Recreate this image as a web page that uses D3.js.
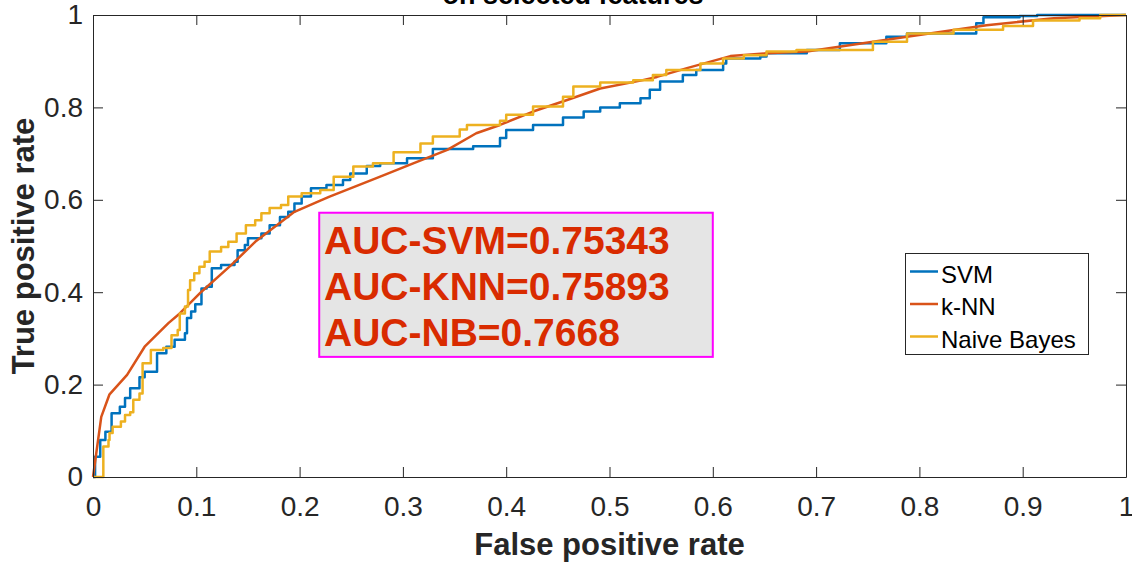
<!DOCTYPE html>
<html>
<head>
<meta charset="utf-8">
<script src="https://cdn.jsdelivr.net/npm/d3@7"></script>
<style>
  body { margin: 0; background: #fff; }
  text { font-family: "Liberation Sans", Arial, sans-serif; }
</style>
</head>
<body>
<svg id="chart" width="1132" height="564"></svg>
<script>
"use strict";

// ROC points (false positive rate, true positive rate)
const svmFpr = [0, .002, .007, .012, .018, .026, .031, .036, .045, .050, .062, .071, .079, .089, .091, .095, .099, .105, .110, .115, .124, .137, .140, .147, .150, .163, .171, .181, .189, .195, .202, .211, .226, .242, .249, .265, .278, .304, .329, .368, .394, .400, .426, .455, .475, .491, .510, .530, .539, .549, .571, .584, .610, .613, .646, .652, .691, .723, .768, .788, .855, .862, .897, .914, 1];
const svmTpr = [0, .044, .080, .098, .138, .152, .171, .192, .216, .228, .268, .282, .297, .311, .344, .358, .374, .408, .412, .452, .459, .466, .491, .502, .517, .527, .545, .563, .574, .592, .607, .625, .632, .643, .657, .673, .679, .690, .710, .716, .734, .751, .762, .778, .791, .800, .809, .820, .838, .856, .870, .881, .895, .906, .910, .917, .924, .939, .953, .960, .982, .995, .998, 1, 1];

const knnFpr = [0, .008, .016, .033, .050, .073, .084, .105, .134, .157, .195, .220, .229, .278, .310, .343, .371, .394, .426, .459, .491, .530, .546, .575, .617, .652, .691, .788, .865, .930, 1];
const knnTpr = [0, .130, .179, .221, .282, .333, .354, .401, .459, .509, .574, .598, .607, .650, .679, .708, .744, .762, .791, .816, .841, .858, .866, .885, .911, .917, .921, .953, .978, .993, 1];

const nbFpr = [0, .010, .010, .015, .016, .019, .027, .031, .036, .039, .045, .048, .056, .068, .076, .082, .084, .089, .092, .094, .098, .103, .108, .113, .124, .131, .139, .148, .157, .163, .171, .182, .189, .202, .220, .233, .252, .271, .291, .317, .329, .355, .362, .394, .400, .426, .455, .465, .491, .523, .542, .555, .588, .610, .623, .630, .652, .681, .755, .788, .833, .881, .910, .955, .975, 1];
const nbTpr = [0, 0, .066, .080, .095, .109, .120, .134, .140, .167, .181, .246, .275, .279, .307, .318, .354, .369, .405, .426, .441, .455, .466, .488, .498, .509, .527, .545, .556, .571, .582, .589, .607, .614, .621, .650, .672, .679, .703, .722, .737, .752, .762, .771, .784, .802, .823, .845, .854, .859, .870, .881, .895, .906, .906, .913, .921, .924, .942, .960, .968, .976, .988, .993, 1, 1];

const seriesNames = ["SVM", "k-NN", "Naive Bayes"];
const seriesColors = ["#0072BD", "#D95319", "#EDB120"];
const aucLines = ["AUC-SVM=0.75343", "AUC-KNN=0.75893", "AUC-NB=0.7668"];
const tickValues = [0, 0.1, 0.2, 0.3, 0.4, 0.5, 0.6, 0.7, 0.8, 0.9, 1];
const yTickValues = [0, 0.2, 0.4, 0.6, 0.8, 1];

const svg = d3.select("#chart");
const margin = {left: 93, right: 6, top: 15, bottom: 87};
const W = 1132, H = 564;
const axisColor = "#262626";

const x = d3.scaleLinear().domain([0, 1]).range([margin.left, W - margin.right]);
const y = d3.scaleLinear().domain([0, 1]).range([H - margin.bottom, margin.top]);

const fmt = d => String(d);

// curves first, axes box on top
const zip = (a, b) => a.map((v, i) => [v, b[i]]);
const series = [
  {pts: zip(svmFpr, svmTpr), curve: d3.curveStepAfter},
  {pts: zip(knnFpr, knnTpr), curve: d3.curveLinear},
  {pts: zip(nbFpr, nbTpr), curve: d3.curveStepAfter}
];

series.forEach((s, i) => {
  const line = d3.line().x(d => x(d[0])).y(d => y(d[1])).curve(s.curve);
  svg.append("path")
    .attr("d", line(s.pts))
    .attr("fill", "none")
    .attr("stroke", seriesColors[i])
    .attr("stroke-width", 2.5)
    .attr("stroke-linejoin", "round");
});

// axes (ticks point inward, box on all sides)
const tickStyle = g => {
  g.selectAll(".domain").attr("stroke", axisColor);
  g.selectAll(".tick line").attr("stroke", axisColor);
  g.selectAll(".tick text")
    .attr("fill", axisColor)
    .style("font-size", "28px");
};

svg.append("g")
  .attr("transform", `translate(0,${y(0)})`)
  .call(d3.axisBottom(x).tickValues(tickValues).tickFormat(fmt).tickSizeInner(-10).tickSizeOuter(0).tickPadding(19))
  .call(tickStyle);

svg.append("g")
  .attr("transform", `translate(0,${y(1)})`)
  .call(d3.axisTop(x).tickValues(tickValues).tickFormat("").tickSizeInner(-10).tickSizeOuter(0))
  .call(tickStyle);

svg.append("g")
  .attr("transform", `translate(${x(0)},0)`)
  .call(d3.axisLeft(y).tickValues(yTickValues).tickFormat(fmt).tickSizeInner(-10).tickSizeOuter(0).tickPadding(10))
  .call(tickStyle);

svg.append("g")
  .attr("transform", `translate(${x(1)},0)`)
  .call(d3.axisRight(y).tickValues(yTickValues).tickFormat("").tickSizeInner(-10).tickSizeOuter(0))
  .call(tickStyle);

// labels
svg.append("text")
  .attr("x", (x(0) + x(1)) / 2)
  .attr("y", 555)
  .attr("text-anchor", "middle")
  .attr("fill", axisColor)
  .style("font-size", "31px")
  .style("font-weight", "bold")
  .text("False positive rate");

svg.append("text")
  .attr("transform", `translate(34,${(y(0) + y(1)) / 2}) rotate(-90)`)
  .attr("text-anchor", "middle")
  .attr("fill", axisColor)
  .style("font-size", "31px")
  .style("font-weight", "bold")
  .text("True positive rate");

svg.append("text")
  .attr("x", 573)
  .attr("y", 4)
  .attr("text-anchor", "middle")
  .attr("fill", "#000")
  .style("font-size", "27px")
  .style("font-weight", "bold")
  .text("on selected features");

// AUC annotation box
const aucBox = svg.append("g");
aucBox.append("rect")
  .attr("x", x(0.219)).attr("y", y(0.572))
  .attr("width", x(0.6) - x(0.219)).attr("height", y(0.26) - y(0.572))
  .attr("fill", "#e5e5e5")
  .attr("stroke", "#ff00ff")
  .attr("stroke-width", 2);

aucBox.selectAll("text")
  .data(aucLines)
  .join("text")
  .attr("x", 324)
  .attr("y", (d, i) => 254 + i * 46)
  .attr("fill", "#d92b00")
  .style("font-size", "39px")
  .style("font-weight", "bold")
  .text(d => d);

// legend
const legend = svg.append("g");
legend.append("rect")
  .attr("x", 905.5).attr("y", 253.5)
  .attr("width", 183).attr("height", 101)
  .attr("fill", "#fff")
  .attr("stroke", axisColor)
  .attr("stroke-width", 1);

seriesNames.forEach((name, i) => {
  const cy = 271.5 + i * 32.5;
  legend.append("line")
    .attr("x1", 910).attr("x2", 938)
    .attr("y1", cy).attr("y2", cy)
    .attr("stroke", seriesColors[i])
    .attr("stroke-width", 2.5);
  legend.append("text")
    .attr("x", 941)
    .attr("y", cy + 11)
    .attr("fill", "#000")
    .style("font-size", "24px")
    .text(name);
});
</script>
</body>
</html>
